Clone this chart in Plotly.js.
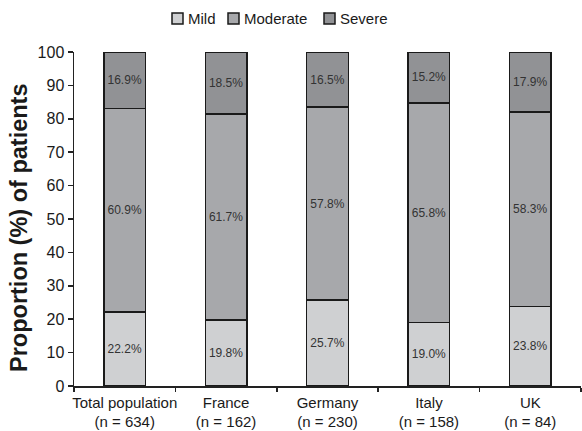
<!DOCTYPE html>
<html>
<head>
<meta charset="utf-8">
<script src="https://cdn.plot.ly/plotly-3.0.1.min.js"></script>
<style>html,body{margin:0;padding:0;background:#fff;}#chart{width:582px;height:431px;}</style>
</head>
<body>
<div id="chart"></div>
<script>
const categories = ["Total population<br>(n = 634)", "France<br>(n = 162)", "Germany<br>(n = 230)", "Italy<br>(n = 158)", "UK<br>(n = 84)"];
const mild = [22.2, 19.8, 25.7, 19.0, 23.8];
const moderate = [60.9, 61.7, 57.8, 65.8, 58.3];
const severe = [16.9, 18.5, 16.5, 15.2, 17.9];
const seriesNames = ["Mild", "Moderate", "Severe"];
const seriesColors = ["#cfd0d2", "#a7a8ab", "#919295"];
const yTitle = "Proportion (%) of patients";

const W = 582, H = 431;
const M = {l: 74, r: 1, t: 52, b: 45};
const pw = W - M.l - M.r, ph = H - M.t - M.b;
const px = x => (x - M.l) / pw;
const py = y => (H - M.b - y) / ph;

const values = [mild, moderate, severe];
const traces = values.map((v, i) => ({
  type: "bar",
  name: seriesNames[i],
  x: categories,
  y: v,
  width: 0.41,
  marker: {color: seriesColors[i], line: {color: "#1a1a1a", width: 1.5}},
  texttemplate: "%{y:.1f}%",
  textposition: "inside",
  insidetextanchor: "middle",
  textangle: 0,
  textfont: {family: "Liberation Sans, Arial, sans-serif", size: 12, color: "#333"},
  hoverinfo: "skip",
  showlegend: false
}));

// custom legend (pixel layout of the reference)
const legendBoxX = [172, 228, 324];
const legendY = 18.5, box = 11;
const shapes = seriesNames.map((n, i) => ({
  type: "rect", xref: "paper", yref: "paper",
  x0: px(legendBoxX[i]), x1: px(legendBoxX[i] + box),
  y0: py(legendY + box / 2), y1: py(legendY - box / 2),
  fillcolor: seriesColors[i], line: {color: "#1a1a1a", width: 1.5}
}));
const annotations = seriesNames.map((n, i) => ({
  xref: "paper", yref: "paper", x: px(legendBoxX[i] + box + 3), y: py(legendY),
  xanchor: "left", yanchor: "middle", showarrow: false, text: n,
  font: {size: 15, color: "#1a1a1a"}
}));
annotations.push({
  xref: "paper", yref: "paper", x: px(19), y: py(228),
  xanchor: "center", yanchor: "middle", showarrow: false, textangle: -90,
  text: "<b>" + yTitle + "</b>", font: {size: 23.5, color: "#1a1a1a"}
});

const layout = {
  width: W, height: H,
  margin: M,
  barmode: "stack",
  paper_bgcolor: "#fff", plot_bgcolor: "#fff",
  font: {family: "Liberation Sans, Arial, sans-serif", color: "#1a1a1a", size: 15},
  showlegend: false,
  shapes: shapes,
  annotations: annotations,
  xaxis: {
    showline: true, linecolor: "#222", linewidth: 1.5,
    ticks: "outside", ticklen: 4, tickcolor: "#222", tickwidth: 1.5,
    tickson: "boundaries", showgrid: false, zeroline: false, tickangle: 0,
    ticklabelstandoff: 2,
    tickfont: {size: 15, color: "#1a1a1a"}
  },
  yaxis: {
    range: [0, 100], dtick: 10, showline: true, linecolor: "#222", linewidth: 1.5,
    ticks: "outside", ticklen: 5, tickcolor: "#222", tickwidth: 1.5,
    showgrid: false, zeroline: false,
    tickfont: {size: 16, color: "#1a1a1a"}
  }
};

Plotly.newPlot("chart", traces, layout, {staticPlot: true, displayModeBar: false});
</script>
</body>
</html>
